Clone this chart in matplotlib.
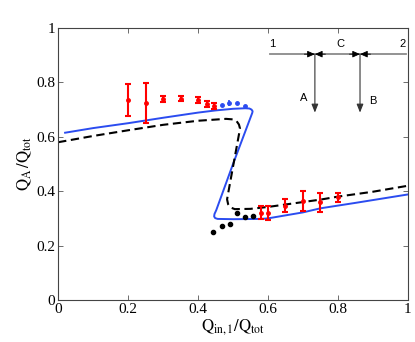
import numpy as np
import matplotlib.pyplot as plt

plt.rcParams['font.family'] = 'Liberation Serif'
plt.rcParams['mathtext.fontset'] = 'stix'

# model curves
blue_x = [0.02, 0.10, 0.20, 0.30, 0.40, 0.45, 0.50, 0.535, 0.547, 0.553, 0.556, 0.555,
          0.50, 0.452, 0.447, 0.446, 0.449, 0.456, 0.50, 0.58, 0.60, 0.70, 0.75, 0.85, 1.00]
blue_y = [0.615, 0.632, 0.650, 0.670, 0.689, 0.697, 0.703, 0.705, 0.704, 0.700, 0.694, 0.688,
          0.50, 0.33, 0.316, 0.307, 0.301, 0.298, 0.297, 0.298, 0.300, 0.322, 0.337, 0.357, 0.388]

dash_x = [0.00, 0.10, 0.20, 0.30, 0.40, 0.48, 0.50, 0.51, 0.517, 0.52, 0.51,
          0.49, 0.483, 0.486, 0.493, 0.505, 0.55, 0.60, 0.65, 0.70, 0.75, 0.80, 0.90, 1.00]
dash_y = [0.580, 0.603, 0.624, 0.644, 0.659, 0.666, 0.664, 0.658, 0.645, 0.630, 0.56,
          0.42, 0.37, 0.352, 0.340, 0.334, 0.335, 0.342, 0.351, 0.360, 0.369, 0.380, 0.398, 0.420]

# measurements with error bars (red)
red_x = [0.20, 0.25, 0.30, 0.35, 0.40, 0.425, 0.447,
         0.58, 0.60, 0.65, 0.70, 0.75, 0.80]
red_y = [0.735, 0.725, 0.739, 0.740, 0.735, 0.720, 0.713,
         0.321, 0.319, 0.346, 0.364, 0.359, 0.377]
red_err = [0.058, 0.073, 0.010, 0.010, 0.012, 0.012, 0.010,
           0.023, 0.026, 0.024, 0.036, 0.036, 0.015]

# blue points
bpt_x = [0.468, 0.489, 0.512, 0.534]
bpt_y = [0.717, 0.725, 0.725, 0.714]
bpt_err = [0.0, 0.010, 0.0, 0.0]

# black points
kpt_x = [0.444, 0.468, 0.491, 0.512, 0.534, 0.556]
kpt_y = [0.251, 0.273, 0.278, 0.319, 0.306, 0.310]

fig = plt.figure(figsize=(4.15, 3.42), dpi=100)
ax = fig.add_axes([0.14, 0.123, 0.843, 0.795])

ax.plot(blue_x, blue_y, color='#2b4cf0', lw=1.4)
ax.plot(dash_x, dash_y, color='black', lw=1.5, dashes=(4, 2.2))
ax.errorbar(red_x, red_y, yerr=red_err, fmt='o', color='red', ms=2.5,
            capsize=2.5, elinewidth=1.5, capthick=1.5)
ax.errorbar(bpt_x, bpt_y, yerr=bpt_err, fmt='o', color='#2b4cf0', ms=2.5,
            capsize=0, elinewidth=1.2)
ax.plot(kpt_x, kpt_y, 'o', color='black', ms=3)

ax.set_xlim(0, 1)
ax.set_ylim(0, 1)
ticks = [0, 0.2, 0.4, 0.6, 0.8, 1]
labels = ['0', '0.2', '0.4', '0.6', '0.8', '1']
ax.set_xticks(ticks)
ax.set_xticklabels(labels)
ax.set_yticks(ticks)
ax.set_yticklabels(labels)
ax.tick_params(direction='in', top=True, right=True, length=3.5, width=0.6,
               labelsize=11, color='#555555', pad=2)
for s in ax.spines.values():
    s.set_color('#444444')
    s.set_linewidth(0.8)

ax.set_xlabel(r'$\mathrm{Q_{in,1}/Q_{tot}}$', fontsize=12, labelpad=1)
ax.set_ylabel(r'$\mathrm{Q_A\,/Q_{tot}}$', fontsize=12, labelpad=2)

# inset junction diagram
ly = 0.904
j1, j2 = 0.734, 0.863
ax.plot([0.606, 0.994], [ly, ly], color='#8a8a8a', lw=1.3)
hp = dict(arrowstyle='-|>,head_length=0.45,head_width=0.2', color='black', lw=0.6,
          shrinkA=0, shrinkB=0)
for j in (j1, j2):
    ax.annotate('', xy=(j, ly), xytext=(j - 0.03, ly), arrowprops=hp)
    ax.annotate('', xy=(j, ly), xytext=(j + 0.03, ly), arrowprops=hp)
    ax.annotate('', xy=(j, 0.689), xytext=(j, ly),
                arrowprops=dict(arrowstyle='-|>,head_length=0.5,head_width=0.2',
                                color='#333333', lw=0.8, shrinkA=0, shrinkB=0))
sf = dict(family='Liberation Sans', fontsize=8, ha='center', va='center')
ax.text(0.612, 0.94, '1', **sf)
ax.text(0.806, 0.94, 'C', **sf)
ax.text(0.985, 0.94, '2', **sf)
ax.text(0.701, 0.744, 'A', **sf)
ax.text(0.900, 0.732, 'B', **sf)

fig.savefig('out.png', dpi=100)
